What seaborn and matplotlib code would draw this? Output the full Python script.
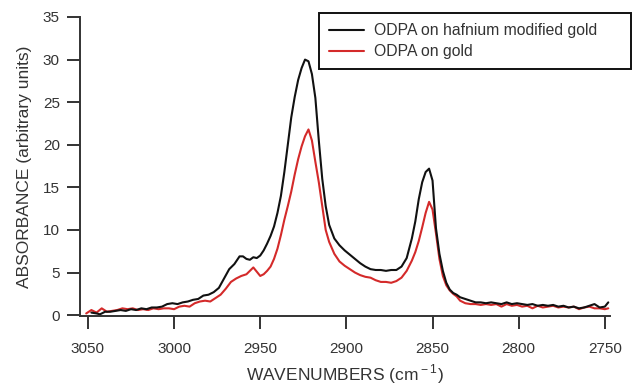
import numpy as np
import pandas as pd
import matplotlib
matplotlib.use("Agg")
import matplotlib.pyplot as plt
import seaborn as sns

# Spectre ODPA sur or modifie au hafnium (courbe noire)
wn_hf = [3048, 3045, 3043, 3040, 3037, 3034, 3031, 3028, 3025, 3022, 3019, 3016, 3013,
         3010, 3007, 3004, 3001, 2998, 2995, 2992, 2989, 2986, 2983, 2980, 2977, 2974,
         2971, 2968, 2965, 2962, 2960, 2958, 2956, 2954, 2952, 2950, 2948, 2946, 2944,
         2942, 2940, 2938, 2936, 2934, 2932, 2930, 2928, 2926, 2924, 2922, 2920, 2918,
         2916, 2914, 2912, 2910, 2907, 2904, 2901, 2898, 2895, 2892, 2889, 2886, 2883,
         2880, 2877, 2874, 2871, 2868, 2865, 2862, 2860, 2858, 2856, 2854, 2852, 2850,
         2848, 2846, 2844, 2842, 2840, 2838, 2836, 2834, 2831, 2828, 2825, 2822, 2819,
         2816, 2813, 2810, 2807, 2804, 2801, 2798, 2795, 2792, 2789, 2786, 2783, 2780,
         2777, 2774, 2771, 2768, 2765, 2762, 2759, 2756, 2753, 2750, 2748]
abs_hf = [0.3, 0.2, 0.1, 0.4, 0.4, 0.5, 0.6, 0.5, 0.7, 0.6, 0.8, 0.7, 0.9,
          0.9, 1.0, 1.3, 1.4, 1.3, 1.5, 1.6, 1.8, 1.9, 2.3, 2.4, 2.7, 3.2,
          4.3, 5.4, 6.0, 6.9, 6.9, 6.6, 6.5, 6.8, 6.7, 7.0, 7.6, 8.4, 9.3,
          10.4, 12.0, 14.0, 16.8, 20.0, 23.2, 25.6, 27.6, 29.0, 30.0, 29.8, 28.3, 25.5,
          20.5, 16.0, 12.8, 10.6, 9.0, 8.2, 7.6, 7.1, 6.6, 6.1, 5.7, 5.4, 5.3,
          5.3, 5.2, 5.3, 5.3, 5.7, 6.7, 9.0, 11.0, 13.6, 15.6, 16.8, 17.2, 15.8,
          10.2, 7.2, 5.2, 3.8, 3.0, 2.6, 2.4, 2.1, 1.9, 1.7, 1.5, 1.5, 1.4,
          1.5, 1.4, 1.3, 1.5, 1.3, 1.4, 1.3, 1.2, 1.3, 1.1, 1.2, 1.1, 1.2,
          1.0, 1.1, 0.9, 1.0, 0.8, 0.9, 1.1, 1.3, 0.9, 1.0, 1.5]

# Spectre ODPA sur or (courbe rouge)
wn_au = [3051, 3048, 3045, 3042, 3039, 3036, 3033, 3030, 3027, 3024, 3021, 3018, 3015,
         3012, 3009, 3006, 3003, 3000, 2997, 2994, 2991, 2988, 2985, 2982, 2979, 2976,
         2973, 2970, 2967, 2964, 2961, 2958, 2956, 2954, 2952, 2950, 2948, 2946, 2944,
         2942, 2940, 2938, 2936, 2934, 2932, 2930, 2928, 2926, 2924, 2922, 2920, 2918,
         2916, 2914, 2912, 2910, 2907, 2904, 2901, 2898, 2895, 2892, 2889, 2886, 2883,
         2880, 2877, 2874, 2871, 2868, 2865, 2862, 2860, 2858, 2856, 2854, 2852, 2850,
         2848, 2846, 2844, 2842, 2840, 2838, 2836, 2834, 2831, 2828, 2825, 2822, 2819,
         2816, 2813, 2810, 2807, 2804, 2801, 2798, 2795, 2792, 2789, 2786, 2783, 2780,
         2777, 2774, 2771, 2768, 2765, 2762, 2759, 2756, 2753, 2750, 2748]
abs_au = [0.2, 0.6, 0.3, 0.8, 0.4, 0.5, 0.6, 0.8, 0.7, 0.8, 0.6, 0.7, 0.6,
          0.8, 0.7, 0.8, 0.8, 0.7, 1.0, 1.1, 1.0, 1.4, 1.6, 1.7, 1.6, 2.0,
          2.4, 3.1, 3.9, 4.3, 4.6, 4.8, 5.2, 5.6, 5.1, 4.6, 4.8, 5.2, 5.7,
          6.6, 7.8, 9.4, 11.2, 12.8, 14.5, 16.5, 18.3, 19.8, 21.0, 21.8, 20.5, 18.0,
          15.6, 12.8, 10.0, 8.6, 7.2, 6.3, 5.8, 5.4, 5.0, 4.7, 4.5, 4.4, 4.1,
          3.9, 3.9, 3.8, 4.0, 4.4, 5.2, 6.4, 7.4, 8.7, 10.3, 12.0, 13.3, 12.4,
          9.6, 6.6, 4.6, 3.5, 2.9, 2.5, 2.2, 1.7, 1.4, 1.3, 1.3, 1.2, 1.3,
          1.2, 1.3, 1.0, 1.3, 1.1, 1.2, 1.0, 1.1, 0.8, 1.1, 0.9, 1.0, 1.1,
          0.9, 1.0, 0.9, 1.0, 0.7, 0.9, 1.0, 0.8, 0.8, 0.7, 0.8]

labels = ["ODPA on hafnium modified gold", "ODPA on gold"]
colors = {labels[0]: "#111111", labels[1]: "#d42a2a"}
x_ticks = [3050, 3000, 2950, 2900, 2850, 2800, 2750]
y_ticks = [0, 5, 10, 15, 20, 25, 30, 35]

sns.set_style("ticks")
plt.rcParams.update({
    "font.family": ["Liberation Sans", "DejaVu Sans"],
    "mathtext.fontset": "custom",
    "mathtext.rm": "Liberation Sans",
    "text.color": "#333333",
    "axes.labelcolor": "#333333",
    "xtick.color": "#333333",
    "ytick.color": "#333333",
    "axes.edgecolor": "#333333",
})

df = pd.concat([
    pd.DataFrame({"wn": wn_hf, "absorbance": abs_hf, "sample": labels[0]}),
    pd.DataFrame({"wn": wn_au, "absorbance": abs_au, "sample": labels[1]}),
])

fig = plt.figure(figsize=(6.32, 3.87), dpi=100)
ax = fig.add_axes([80 / 632, 1 - 316 / 387, 530 / 632, 299 / 387])

sns.lineplot(data=df, x="wn", y="absorbance", hue="sample", hue_order=labels[::-1],
             palette=colors, estimator=None, linewidth=1.5, ax=ax, legend=False)

ax.set_xlim(3054.6, 2747)
ax.set_ylim(-0.1, 35)
ax.set_xticks(x_ticks)
ax.set_yticks(y_ticks)
ax.tick_params(direction="out", length=9.5, width=1.4, labelsize=11)
ax.tick_params(axis="x", pad=9)
ax.tick_params(axis="y", pad=5)
for side in ["left", "bottom"]:
    ax.spines[side].set_linewidth(1.4)
sns.despine(ax=ax)

ax.set_xlabel("WAVENUMBERS (cm$^{\\rm -1}$)", fontsize=12.5, labelpad=5)
ax.set_ylabel("ABSORBANCE (arbitrary units)", fontsize=12.5, labelpad=8)

handles = [plt.Line2D([], [], color=colors[l], lw=1.5) for l in labels]
leg = ax.legend(handles, labels, loc="upper left",
                bbox_to_anchor=(319 / 632, 1 - 13 / 387, 312 / 632, 0),
                bbox_transform=fig.transFigure, mode="expand", borderaxespad=0,
                fontsize=11.3, handlelength=2.2, handletextpad=0.65, labelspacing=0.38,
                borderpad=0.65, fancybox=False, framealpha=1)
leg.get_frame().set_edgecolor("#111111")
leg.get_frame().set_linewidth(1.4)

fig.savefig("out.png", dpi=100)
